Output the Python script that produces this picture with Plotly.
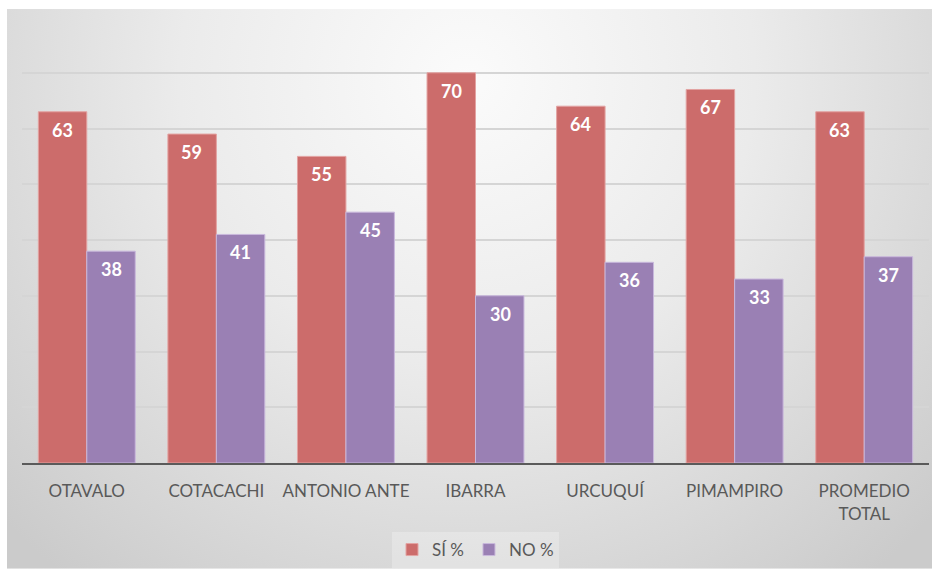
import base64
import plotly.graph_objects as go

# Survey results per canton (percent answering yes / no)
cantones = ["OTAVALO", "COTACACHI", "ANTONIO ANTE", "IBARRA", "URCUQUÍ", "PIMAMPIRO", "PROMEDIO<br>TOTAL"]
si_pct = [63, 59, 55, 70, 64, 67, 63]
no_pct = [38, 41, 45, 30, 36, 33, 37]
series_names = ["SÍ %", "NO %"]

RED = "#cc6c6b"
PURPLE = "#9a80b4"
TEXT = "#595959"
FONT = "Lato"

W, H = 932, 570
ML, MR, MT, MB = 22, 3, 17, 106
PW, PH = W - ML - MR, H - MT - MB

fig = go.Figure()
fig.add_trace(go.Bar(
    x=cantones, y=si_pct, name=series_names[0],
    marker=dict(color=RED, line=dict(color="#e3a3a2", width=1)),
))
fig.add_trace(go.Bar(
    x=cantones, y=no_pct, name=series_names[1],
    marker=dict(color=PURPLE, line=dict(color="#c9b8dc", width=1)),
))

# value labels just inside the top of each bar
for i, cat in enumerate(cantones):
    for j, vals in enumerate((si_pct, no_pct)):
        fig.add_annotation(
            x=cat, y=vals[i], text=f"<b>{vals[i]}</b>", showarrow=False,
            xref="x", yref="y", yanchor="middle", yshift=-18,
            xshift=(-24.5 if j == 0 else 24.5),
            font=dict(family=FONT, size=18, color="white"),
        )

# soft radial gradient panel behind the chart
svg = (
    '<svg xmlns="http://www.w3.org/2000/svg" width="925" height="561" viewBox="0 0 925 561" preserveAspectRatio="none">'
    '<defs><radialGradient id="g" gradientUnits="userSpaceOnUse" cx="460" cy="70" r="640">'
    '<stop offset="0" stop-color="#fbfbfb"/>'
    '<stop offset="0.45" stop-color="#ebebeb"/>'
    '<stop offset="1" stop-color="#cbcbcb"/>'
    '</radialGradient></defs>'
    '<rect x="0" y="0" width="925" height="561" fill="url(#g)"/></svg>'
)
src = "data:image/svg+xml;base64," + base64.b64encode(svg.encode()).decode()
px0, px1 = 7, 932
py0, py1 = 9, 570
fig.add_layout_image(
    source=src, xref="paper", yref="paper",
    x=(px0 - ML) / PW, y=(H - MB - py0) / PH,
    sizex=(px1 - px0) / PW, sizey=(py1 - py0) / PH,
    xanchor="left", yanchor="top", sizing="stretch", layer="below",
)

fig.update_layout(
    width=W, height=H,
    margin=dict(l=ML, r=MR, t=MT, b=MB, pad=0),
    paper_bgcolor="white", plot_bgcolor="rgba(0,0,0,0)",
    barmode="group", bargap=0.252, bargroupgap=0.0,
    font=dict(family=FONT, size=16, color=TEXT),
    showlegend=True,
    legend=dict(
        orientation="h", x=0.5, xanchor="center", y=(H - MB - 550) / PH, yanchor="middle",
        bgcolor="rgba(255,255,255,0.25)", font=dict(family=FONT, size=17, color=TEXT),
        itemwidth=30, traceorder="normal",
    ),
)
fig.update_xaxes(
    showline=True, linecolor="#5a5a5a", linewidth=2, showgrid=False,
    ticks="", tickfont=dict(family=FONT, size=17, color=TEXT), ticklabelstandoff=12,
)
fig.update_yaxes(
    range=[0, 80], dtick=10, showticklabels=False, showgrid=True,
    gridcolor="#d5d5d5", gridwidth=1.5, zeroline=False, showline=False,
)

fig.write_html("out.html")
